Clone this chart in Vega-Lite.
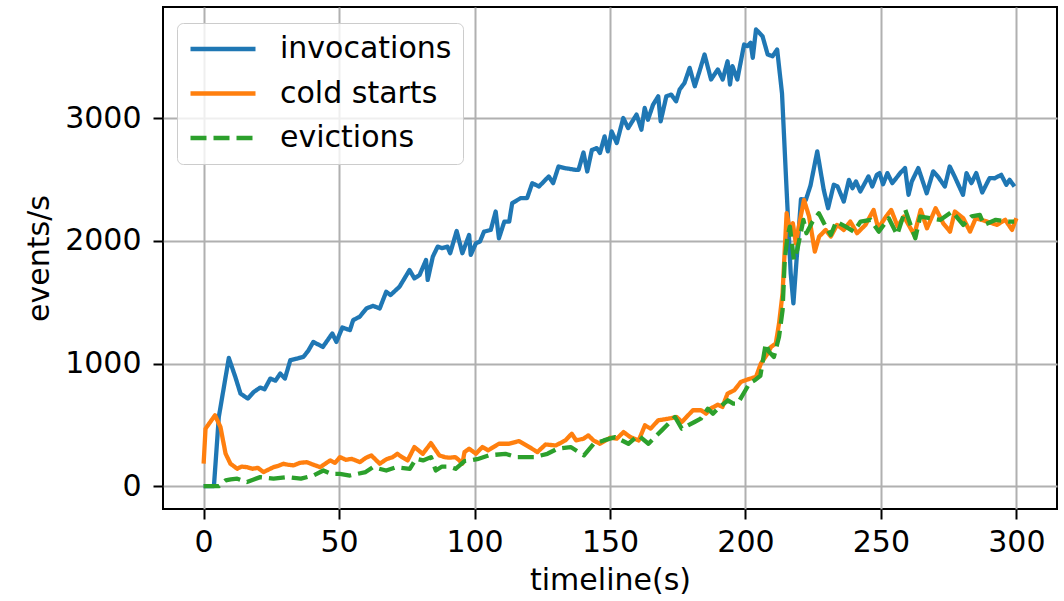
{
  "$schema": "https://vega.github.io/schema/vega-lite/v6.json",
  "autosize": "none",
  "width": 894,
  "height": 502,
  "padding": {"left": 163, "top": 7, "right": 7, "bottom": 92},
  "background": "white",
  "config": {
    "font": "DejaVu Sans",
    "view": {"stroke": "#000000", "strokeWidth": 2},
    "axis": {
      "domain": false,
      "grid": true,
      "gridColor": "#b0b0b0",
      "gridWidth": 2,
      "gridOpacity": 1,
      "ticks": true,
      "tickColor": "#000000",
      "tickSize": 10,
      "tickWidth": 2,
      "labelFont": "DejaVu Sans",
      "labelFontSize": 30,
      "labelColor": "#000000",
      "titleFont": "DejaVu Sans",
      "titleFontSize": 30,
      "titleFontWeight": "normal",
      "titleColor": "#000000"
    }
  },
  "data": {"values": [
{"s":"invocations","t":0,"v":0},{"s":"invocations","t":2,"v":0},{"s":"invocations","t":3.8,"v":0},{"s":"invocations","t":5.6,"v":564},{"s":"invocations","t":9.3,"v":1045},{"s":"invocations","t":11.7,"v":890},{"s":"invocations","t":13.6,"v":755},{"s":"invocations","t":16.3,"v":714},{"s":"invocations","t":18.5,"v":768},{"s":"invocations","t":20.9,"v":804},{"s":"invocations","t":22.5,"v":790},{"s":"invocations","t":24.6,"v":877},{"s":"invocations","t":26.5,"v":860},{"s":"invocations","t":28.3,"v":918},{"s":"invocations","t":30,"v":877},{"s":"invocations","t":32,"v":1027},{"s":"invocations","t":34.5,"v":1040},{"s":"invocations","t":36.8,"v":1054},{"s":"invocations","t":38.5,"v":1100},{"s":"invocations","t":40.5,"v":1176},{"s":"invocations","t":44,"v":1135},{"s":"invocations","t":47.5,"v":1245},{"s":"invocations","t":49,"v":1176},{"s":"invocations","t":51.2,"v":1293},{"s":"invocations","t":54,"v":1272},{"s":"invocations","t":55.2,"v":1354},{"s":"invocations","t":57.6,"v":1381},{"s":"invocations","t":60.1,"v":1449},{"s":"invocations","t":62.5,"v":1470},{"s":"invocations","t":65,"v":1449},{"s":"invocations","t":67.4,"v":1585},{"s":"invocations","t":69,"v":1558},{"s":"invocations","t":72.3,"v":1626},{"s":"invocations","t":76,"v":1762},{"s":"invocations","t":77.8,"v":1694},{"s":"invocations","t":79.7,"v":1721},{"s":"invocations","t":82.1,"v":1844},{"s":"invocations","t":82.7,"v":1681},{"s":"invocations","t":84.6,"v":1871},{"s":"invocations","t":86.4,"v":1953},{"s":"invocations","t":88,"v":1940},{"s":"invocations","t":90,"v":1953},{"s":"invocations","t":91,"v":1899},{"s":"invocations","t":93.4,"v":2080},{"s":"invocations","t":95.5,"v":1899},{"s":"invocations","t":98,"v":2048},{"s":"invocations","t":98.6,"v":1885},{"s":"invocations","t":100.5,"v":1980},{"s":"invocations","t":102,"v":1994},{"s":"invocations","t":103.5,"v":2075},{"s":"invocations","t":106,"v":2089},{"s":"invocations","t":107.8,"v":2239},{"s":"invocations","t":109,"v":2021},{"s":"invocations","t":111,"v":2157},{"s":"invocations","t":112.8,"v":2157},{"s":"invocations","t":113.9,"v":2307},{"s":"invocations","t":117,"v":2348},{"s":"invocations","t":119.4,"v":2348},{"s":"invocations","t":121.3,"v":2470},{"s":"invocations","t":123.8,"v":2443},{"s":"invocations","t":127.4,"v":2525},{"s":"invocations","t":129,"v":2470},{"s":"invocations","t":131,"v":2606},{"s":"invocations","t":133.5,"v":2592},{"s":"invocations","t":137.2,"v":2579},{"s":"invocations","t":138.4,"v":2579},{"s":"invocations","t":140.2,"v":2720},{"s":"invocations","t":141.6,"v":2565},{"s":"invocations","t":143.3,"v":2740},{"s":"invocations","t":145.1,"v":2756},{"s":"invocations","t":146.3,"v":2716},{"s":"invocations","t":148,"v":2851},{"s":"invocations","t":149.2,"v":2729},{"s":"invocations","t":150.6,"v":2892},{"s":"invocations","t":152.5,"v":2797},{"s":"invocations","t":154.9,"v":3001},{"s":"invocations","t":156.7,"v":2919},{"s":"invocations","t":159.8,"v":3029},{"s":"invocations","t":161.6,"v":2906},{"s":"invocations","t":162.8,"v":3083},{"s":"invocations","t":164,"v":2987},{"s":"invocations","t":165.9,"v":3110},{"s":"invocations","t":167.8,"v":3178},{"s":"invocations","t":168.7,"v":2974},{"s":"invocations","t":170.8,"v":3178},{"s":"invocations","t":172.6,"v":3192},{"s":"invocations","t":174.4,"v":3137},{"s":"invocations","t":175.7,"v":3233},{"s":"invocations","t":177.5,"v":3287},{"s":"invocations","t":179.4,"v":3410},{"s":"invocations","t":181.3,"v":3260},{"s":"invocations","t":183,"v":3380},{"s":"invocations","t":184.9,"v":3519},{"s":"invocations","t":187.3,"v":3315},{"s":"invocations","t":189.8,"v":3397},{"s":"invocations","t":191.6,"v":3315},{"s":"invocations","t":193.4,"v":3464},{"s":"invocations","t":194.3,"v":3274},{"s":"invocations","t":195.2,"v":3424},{"s":"invocations","t":197,"v":3315},{"s":"invocations","t":199.5,"v":3600},{"s":"invocations","t":200.7,"v":3587},{"s":"invocations","t":201.9,"v":3614},{"s":"invocations","t":202.7,"v":3492},{"s":"invocations","t":203.9,"v":3723},{"s":"invocations","t":206.3,"v":3668},{"s":"invocations","t":208.2,"v":3519},{"s":"invocations","t":210,"v":3505},{"s":"invocations","t":211.7,"v":3560},{"s":"invocations","t":213.5,"v":3200},{"s":"invocations","t":215,"v":2500},{"s":"invocations","t":216.7,"v":1735},{"s":"invocations","t":217.7,"v":1490},{"s":"invocations","t":220.5,"v":2340},{"s":"invocations","t":222.3,"v":2334},{"s":"invocations","t":224,"v":2450},{"s":"invocations","t":226.5,"v":2729},{"s":"invocations","t":228.9,"v":2416},{"s":"invocations","t":230.5,"v":2266},{"s":"invocations","t":232.6,"v":2457},{"s":"invocations","t":234,"v":2443},{"s":"invocations","t":236.3,"v":2320},{"s":"invocations","t":238.2,"v":2497},{"s":"invocations","t":239.5,"v":2429},{"s":"invocations","t":240.8,"v":2484},{"s":"invocations","t":242.4,"v":2402},{"s":"invocations","t":245.4,"v":2525},{"s":"invocations","t":246.8,"v":2443},{"s":"invocations","t":248.5,"v":2538},{"s":"invocations","t":249.5,"v":2552},{"s":"invocations","t":250.8,"v":2461},{"s":"invocations","t":252.4,"v":2552},{"s":"invocations","t":254.2,"v":2470},{"s":"invocations","t":257.1,"v":2552},{"s":"invocations","t":258.9,"v":2593},{"s":"invocations","t":260.2,"v":2375},{"s":"invocations","t":261.4,"v":2484},{"s":"invocations","t":263.8,"v":2593},{"s":"invocations","t":266.9,"v":2388},{"s":"invocations","t":269.3,"v":2566},{"s":"invocations","t":271,"v":2525},{"s":"invocations","t":273.6,"v":2443},{"s":"invocations","t":275.4,"v":2606},{"s":"invocations","t":277.2,"v":2525},{"s":"invocations","t":280.3,"v":2375},{"s":"invocations","t":281.6,"v":2552},{"s":"invocations","t":283.4,"v":2470},{"s":"invocations","t":285.2,"v":2552},{"s":"invocations","t":287.4,"v":2394},{"s":"invocations","t":290.1,"v":2511},{"s":"invocations","t":292,"v":2510},{"s":"invocations","t":294.4,"v":2538},{"s":"invocations","t":296.3,"v":2457},{"s":"invocations","t":297.5,"v":2497},{"s":"invocations","t":299.3,"v":2443},
{"s":"cold starts","t":0,"v":183},{"s":"cold starts","t":0.7,"v":469},{"s":"cold starts","t":4.2,"v":578},{"s":"cold starts","t":6.2,"v":483},{"s":"cold starts","t":8.1,"v":265},{"s":"cold starts","t":9.9,"v":183},{"s":"cold starts","t":12.4,"v":142},{"s":"cold starts","t":14,"v":160},{"s":"cold starts","t":16,"v":155},{"s":"cold starts","t":18,"v":142},{"s":"cold starts","t":20,"v":150},{"s":"cold starts","t":22.1,"v":115},{"s":"cold starts","t":25.8,"v":155},{"s":"cold starts","t":27.5,"v":165},{"s":"cold starts","t":29.5,"v":183},{"s":"cold starts","t":31,"v":175},{"s":"cold starts","t":33.2,"v":170},{"s":"cold starts","t":35.5,"v":190},{"s":"cold starts","t":38.1,"v":196},{"s":"cold starts","t":40.5,"v":175},{"s":"cold starts","t":43,"v":155},{"s":"cold starts","t":46.7,"v":210},{"s":"cold starts","t":48.5,"v":190},{"s":"cold starts","t":50.3,"v":237},{"s":"cold starts","t":52.5,"v":215},{"s":"cold starts","t":54.6,"v":223},{"s":"cold starts","t":57.7,"v":196},{"s":"cold starts","t":59.8,"v":230},{"s":"cold starts","t":61.9,"v":251},{"s":"cold starts","t":65,"v":183},{"s":"cold starts","t":67.5,"v":220},{"s":"cold starts","t":69.8,"v":237},{"s":"cold starts","t":71.5,"v":264},{"s":"cold starts","t":73,"v":240},{"s":"cold starts","t":75.3,"v":210},{"s":"cold starts","t":77.8,"v":319},{"s":"cold starts","t":80.9,"v":264},{"s":"cold starts","t":83.9,"v":351},{"s":"cold starts","t":87,"v":251},{"s":"cold starts","t":89,"v":237},{"s":"cold starts","t":90.7,"v":232},{"s":"cold starts","t":92.9,"v":237},{"s":"cold starts","t":94.4,"v":210},{"s":"cold starts","t":95.5,"v":183},{"s":"cold starts","t":96.3,"v":278},{"s":"cold starts","t":98,"v":305},{"s":"cold starts","t":100.5,"v":265},{"s":"cold starts","t":102.9,"v":319},{"s":"cold starts","t":105,"v":292},{"s":"cold starts","t":109,"v":346},{"s":"cold starts","t":112.8,"v":346},{"s":"cold starts","t":116.4,"v":368},{"s":"cold starts","t":120.2,"v":319},{"s":"cold starts","t":123.2,"v":278},{"s":"cold starts","t":126.2,"v":340},{"s":"cold starts","t":130,"v":332},{"s":"cold starts","t":133.5,"v":373},{"s":"cold starts","t":135.9,"v":428},{"s":"cold starts","t":137.5,"v":373},{"s":"cold starts","t":140.2,"v":387},{"s":"cold starts","t":142,"v":414},{"s":"cold starts","t":143.9,"v":373},{"s":"cold starts","t":146.3,"v":346},{"s":"cold starts","t":150.2,"v":396},{"s":"cold starts","t":152.5,"v":387},{"s":"cold starts","t":155,"v":441},{"s":"cold starts","t":157.5,"v":400},{"s":"cold starts","t":160.6,"v":373},{"s":"cold starts","t":162.9,"v":496},{"s":"cold starts","t":165,"v":469},{"s":"cold starts","t":167.8,"v":537},{"s":"cold starts","t":171.5,"v":550},{"s":"cold starts","t":174.6,"v":564},{"s":"cold starts","t":176.5,"v":523},{"s":"cold starts","t":180.6,"v":619},{"s":"cold starts","t":183.6,"v":619},{"s":"cold starts","t":185.5,"v":591},{"s":"cold starts","t":187.1,"v":632},{"s":"cold starts","t":189.8,"v":665},{"s":"cold starts","t":191.5,"v":646},{"s":"cold starts","t":193.4,"v":755},{"s":"cold starts","t":195.9,"v":782},{"s":"cold starts","t":198.3,"v":850},{"s":"cold starts","t":200.8,"v":870},{"s":"cold starts","t":203.9,"v":891},{"s":"cold starts","t":205.7,"v":1000},{"s":"cold starts","t":208.2,"v":1082},{"s":"cold starts","t":209.5,"v":1136},{"s":"cold starts","t":211.2,"v":1163},{"s":"cold starts","t":212.4,"v":1327},{"s":"cold starts","t":213.7,"v":1572},{"s":"cold starts","t":214.5,"v":1925},{"s":"cold starts","t":215.2,"v":2225},{"s":"cold starts","t":216.4,"v":2089},{"s":"cold starts","t":217.5,"v":2143},{"s":"cold starts","t":218.6,"v":1980},{"s":"cold starts","t":220.4,"v":2198},{"s":"cold starts","t":221.6,"v":2334},{"s":"cold starts","t":223.5,"v":2198},{"s":"cold starts","t":225.6,"v":1912},{"s":"cold starts","t":227.2,"v":2035},{"s":"cold starts","t":229.6,"v":2089},{"s":"cold starts","t":231.5,"v":2035},{"s":"cold starts","t":233.8,"v":2130},{"s":"cold starts","t":236.3,"v":2089},{"s":"cold starts","t":238.7,"v":2157},{"s":"cold starts","t":241.2,"v":2062},{"s":"cold starts","t":244.3,"v":2130},{"s":"cold starts","t":247.3,"v":2252},{"s":"cold starts","t":249,"v":2102},{"s":"cold starts","t":251.9,"v":2198},{"s":"cold starts","t":253.8,"v":2252},{"s":"cold starts","t":256.2,"v":2116},{"s":"cold starts","t":258.5,"v":2198},{"s":"cold starts","t":262.3,"v":2048},{"s":"cold starts","t":264.7,"v":2252},{"s":"cold starts","t":267,"v":2102},{"s":"cold starts","t":270.2,"v":2266},{"s":"cold starts","t":273,"v":2143},{"s":"cold starts","t":275.5,"v":2075},{"s":"cold starts","t":277.3,"v":2239},{"s":"cold starts","t":280.4,"v":2184},{"s":"cold starts","t":282.9,"v":2075},{"s":"cold starts","t":285,"v":2184},{"s":"cold starts","t":289.2,"v":2157},{"s":"cold starts","t":292.8,"v":2130},{"s":"cold starts","t":295.9,"v":2171},{"s":"cold starts","t":298.4,"v":2089},{"s":"cold starts","t":300,"v":2184},
{"s":"evictions","t":0,"v":0},{"s":"evictions","t":2,"v":0},{"s":"evictions","t":5.6,"v":0},{"s":"evictions","t":8.1,"v":47},{"s":"evictions","t":10,"v":55},{"s":"evictions","t":12.4,"v":61},{"s":"evictions","t":16,"v":34},{"s":"evictions","t":18.5,"v":55},{"s":"evictions","t":20.9,"v":74},{"s":"evictions","t":25.8,"v":61},{"s":"evictions","t":31,"v":74},{"s":"evictions","t":35.9,"v":61},{"s":"evictions","t":40.5,"v":87},{"s":"evictions","t":44.2,"v":128},{"s":"evictions","t":47,"v":101},{"s":"evictions","t":50.3,"v":101},{"s":"evictions","t":54,"v":87},{"s":"evictions","t":59.8,"v":115},{"s":"evictions","t":62.5,"v":155},{"s":"evictions","t":67.4,"v":128},{"s":"evictions","t":71,"v":155},{"s":"evictions","t":76.1,"v":142},{"s":"evictions","t":78.4,"v":224},{"s":"evictions","t":81,"v":210},{"s":"evictions","t":83.9,"v":237},{"s":"evictions","t":85.7,"v":128},{"s":"evictions","t":88,"v":160},{"s":"evictions","t":90.6,"v":160},{"s":"evictions","t":93,"v":142},{"s":"evictions","t":96.3,"v":205},{"s":"evictions","t":98.5,"v":210},{"s":"evictions","t":101,"v":220},{"s":"evictions","t":105.2,"v":251},{"s":"evictions","t":111.4,"v":264},{"s":"evictions","t":115.5,"v":237},{"s":"evictions","t":122,"v":237},{"s":"evictions","t":126.9,"v":264},{"s":"evictions","t":130.6,"v":305},{"s":"evictions","t":135.5,"v":319},{"s":"evictions","t":140.4,"v":251},{"s":"evictions","t":144,"v":346},{"s":"evictions","t":147.7,"v":373},{"s":"evictions","t":151.9,"v":400},{"s":"evictions","t":156.8,"v":346},{"s":"evictions","t":160.5,"v":414},{"s":"evictions","t":164.2,"v":346},{"s":"evictions","t":169.1,"v":455},{"s":"evictions","t":174,"v":564},{"s":"evictions","t":176.5,"v":469},{"s":"evictions","t":181.2,"v":523},{"s":"evictions","t":183.5,"v":550},{"s":"evictions","t":186.1,"v":632},{"s":"evictions","t":188,"v":591},{"s":"evictions","t":189.8,"v":632},{"s":"evictions","t":193.5,"v":700},{"s":"evictions","t":195.5,"v":673},{"s":"evictions","t":197.1,"v":673},{"s":"evictions","t":200,"v":782},{"s":"evictions","t":201.5,"v":840},{"s":"evictions","t":203.5,"v":864},{"s":"evictions","t":205.5,"v":900},{"s":"evictions","t":207.5,"v":1163},{"s":"evictions","t":208.7,"v":1095},{"s":"evictions","t":210.5,"v":1054},{"s":"evictions","t":212.4,"v":1218},{"s":"evictions","t":213.7,"v":1435},{"s":"evictions","t":214.5,"v":1843},{"s":"evictions","t":215.5,"v":2034},{"s":"evictions","t":216.4,"v":2116},{"s":"evictions","t":217.9,"v":1844},{"s":"evictions","t":219.1,"v":1925},{"s":"evictions","t":221.4,"v":2171},{"s":"evictions","t":222.5,"v":2062},{"s":"evictions","t":224.8,"v":2157},{"s":"evictions","t":227.1,"v":2225},{"s":"evictions","t":229,"v":2143},{"s":"evictions","t":231.5,"v":2048},{"s":"evictions","t":233.5,"v":2157},{"s":"evictions","t":237,"v":2116},{"s":"evictions","t":240,"v":2075},{"s":"evictions","t":242.5,"v":2157},{"s":"evictions","t":246.2,"v":2171},{"s":"evictions","t":249.2,"v":2075},{"s":"evictions","t":252.9,"v":2184},{"s":"evictions","t":256,"v":2048},{"s":"evictions","t":259,"v":2252},{"s":"evictions","t":262.7,"v":2021},{"s":"evictions","t":264.5,"v":2198},{"s":"evictions","t":268.3,"v":2184},{"s":"evictions","t":272,"v":2171},{"s":"evictions","t":276.3,"v":2239},{"s":"evictions","t":280.4,"v":2130},{"s":"evictions","t":283.5,"v":2200},{"s":"evictions","t":286.5,"v":2212},{"s":"evictions","t":288,"v":2130},{"s":"evictions","t":292.4,"v":2171},{"s":"evictions","t":297.3,"v":2157},{"s":"evictions","t":299.2,"v":2157}
  ]},
  "mark": {"type": "line", "strokeWidth": 4.3, "strokeJoin": "round", "strokeCap": "butt"},
  "encoding": {
    "x": {
      "field": "t", "type": "quantitative", "title": "timeline(s)",
      "scale": {"domain": [-15, 315], "nice": false, "zero": false},
      "axis": {"values": [0, 50, 100, 150, 200, 250, 300], "format": "d", "labelPadding": 8, "titlePadding": 8, "labelFlush": false}
    },
    "y": {
      "field": "v", "type": "quantitative", "title": "events/s",
      "scale": {"domain": [-186, 3906], "nice": false, "zero": false},
      "axis": {"values": [0, 1000, 2000, 3000], "format": "d", "labelPadding": 12, "titlePadding": 10, "labelFlush": false}
    },
    "color": {
      "field": "s", "type": "nominal",
      "scale": {"domain": ["invocations", "cold starts", "evictions"], "range": ["#1f77b4", "#ff7f0e", "#2ca02c"]},
      "legend": {
        "title": null,
        "orient": "none",
        "legendX": 14,
        "legendY": 16,
        "symbolType": "stroke",
        "symbolSize": 4225,
        "symbolStrokeWidth": 4.3,
        "labelFont": "DejaVu Sans",
        "labelFontSize": 30,
        "labelColor": "#000000",
        "labelOffset": 22,
        "labelLimit": 400,
        "clipHeight": 30,
        "rowPadding": 14.5,
        "padding": 11,
        "fillColor": "rgba(255,255,255,0.8)",
        "strokeColor": "#cccccc",
        "cornerRadius": 6
      }
    },
    "strokeDash": {
      "field": "s", "type": "nominal",
      "scale": {"domain": ["invocations", "cold starts", "evictions"], "range": [[1, 0], [1, 0], [16, 7]]},
      "legend": {
        "title": null,
        "orient": "none",
        "legendX": 14,
        "legendY": 16,
        "symbolType": "stroke",
        "symbolSize": 4225,
        "symbolStrokeWidth": 4.3,
        "labelFont": "DejaVu Sans",
        "labelFontSize": 30,
        "labelColor": "#000000",
        "labelOffset": 22,
        "labelLimit": 400,
        "clipHeight": 30,
        "rowPadding": 14.5,
        "padding": 11,
        "fillColor": "rgba(255,255,255,0.8)",
        "strokeColor": "#cccccc",
        "cornerRadius": 6
      }
    }
  }
}
